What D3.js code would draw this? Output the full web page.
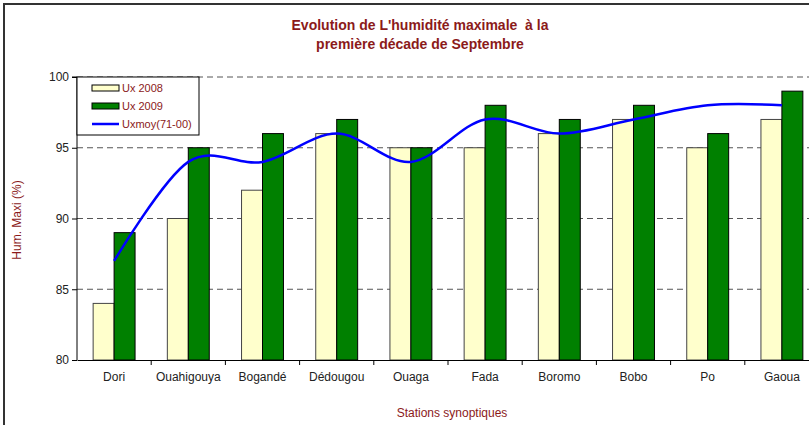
<!DOCTYPE html>
<html>
<head>
<meta charset="utf-8">
<script src="https://cdn.jsdelivr.net/npm/d3@7"></script>
<style>
  body { margin: 0; background: #fff; }
  svg { display: block; font-family: "Liberation Sans", Arial, sans-serif; }
</style>
</head>
<body>
<div id="chart"></div>
<script>
// donnees
const stations = ["Dori", "Ouahigouya", "Bogandé", "Dédougou", "Ouaga", "Fada", "Boromo", "Bobo", "Po", "Gaoua"];
const ux2008 = [84, 90, 92, 96, 95, 95, 96, 97, 95, 97];
const ux2009 = [89, 95, 96, 97, 95, 98, 97, 98, 96, 99];
const uxmoy = [87, 94, 94, 96, 94, 97, 96, 97, 98, 98];
const yTicks = [80, 85, 90, 95, 100];

const W = 809, H = 425;
const margin = { top: 77, left: 77 };
const width = 742, height = 283;
const red = "#8b1a1a";

const svg = d3.select("#chart").append("svg")
  .attr("width", W)
  .attr("height", H);

// cadre du graphique
svg.append("rect")
  .attr("x", 4).attr("y", 4)
  .attr("width", 830).attr("height", 440)
  .attr("fill", "none")
  .attr("stroke", "#333")
  .attr("stroke-width", 2);

svg.append("text")
  .attr("x", 420).attr("y", 30)
  .attr("text-anchor", "middle")
  .attr("fill", red)
  .attr("font-weight", "bold")
  .attr("font-size", 14)
  .style("white-space", "pre")
  .text("Evolution de L'humidité maximale  à la");

svg.append("text")
  .attr("x", 420).attr("y", 49)
  .attr("text-anchor", "middle")
  .attr("fill", red)
  .attr("font-weight", "bold")
  .attr("font-size", 14)
  .text("première décade de Septembre");

const g = svg.append("g")
  .attr("transform", `translate(${margin.left},${margin.top})`);

const x = d3.scaleBand()
  .domain(stations)
  .range([0, width])
  .padding(0);

const x1 = d3.scaleBand()
  .domain(["2008", "2009"])
  .range([0, x.bandwidth()])
  .paddingOuter(0.77)
  .paddingInner(0);

const y = d3.scaleLinear()
  .domain([80, 100])
  .range([height, 0]);

// grille pointillee
g.selectAll(".grid")
  .data(yTicks.filter(d => d > 80))
  .enter()
  .append("line")
  .attr("class", "grid")
  .attr("x1", 0).attr("x2", width)
  .attr("y1", d => y(d)).attr("y2", d => y(d))
  .attr("stroke", "#555")
  .attr("stroke-dasharray", "6,4");

g.selectAll(".b2008")
  .data(stations)
  .enter()
  .append("rect")
  .attr("class", "b2008")
  .attr("x", d => x(d) + x1("2008"))
  .attr("y", (d, i) => y(ux2008[i]))
  .attr("width", x1.bandwidth())
  .attr("height", (d, i) => height - y(ux2008[i]))
  .attr("fill", "#ffffcc")
  .attr("stroke", "#444");

g.selectAll(".b2009")
  .data(stations)
  .enter()
  .append("rect")
  .attr("class", "b2009")
  .attr("x", d => x(d) + x1("2009"))
  .attr("y", (d, i) => y(ux2009[i]))
  .attr("width", x1.bandwidth())
  .attr("height", (d, i) => height - y(ux2009[i]))
  .attr("fill", "#008000")
  .attr("stroke", "#000");

const line = d3.line()
  .x((d, i) => x(stations[i]) + x.bandwidth() / 2)
  .y(d => y(d))
  .curve(d3.curveCatmullRom.alpha(0));

g.append("path")
  .datum(uxmoy)
  .attr("d", line)
  .attr("fill", "none")
  .attr("stroke", "#0000ff")
  .attr("stroke-width", 2.5);

// axes
const yAxis = g.append("g")
  .call(d3.axisLeft(y).tickValues(yTicks).tickSize(5).tickPadding(3));
const xAxis = g.append("g")
  .attr("transform", `translate(0,${height})`)
  .call(d3.axisBottom(x).tickSize(0).tickPadding(12));

[yAxis, xAxis].forEach(a => {
  a.select(".domain").attr("stroke", "#000");
  a.selectAll("text")
    .attr("font-family", "Liberation Sans, Arial, sans-serif")
    .attr("font-size", 12)
    .attr("fill", "#222");
});
yAxis.select(".domain").attr("d", `M-5,0H0V${height}`);

// traits de separation des categories
g.selectAll(".xtick")
  .data(stations.slice(1).concat(["end"]))
  .enter()
  .append("line")
  .attr("x1", (d, i) => (i + 1) * x.step())
  .attr("x2", (d, i) => (i + 1) * x.step())
  .attr("y1", height).attr("y2", height + 5)
  .attr("stroke", "#000");

// legende
const leg = g.append("g");
leg.append("rect")
  .attr("x", 0).attr("y", 0)
  .attr("width", 122).attr("height", 58)
  .attr("fill", "#fff")
  .attr("stroke", "#000");

const legItems = [
  { name: "Ux 2008", type: "rect", color: "#ffffcc" },
  { name: "Ux 2009", type: "rect", color: "#008000" },
  { name: "Uxmoy(71-00)", type: "line", color: "#0000ff" }
];
legItems.forEach((it, i) => {
  const cy = 11 + i * 18;
  if (it.type === "rect") {
    leg.append("rect")
      .attr("x", 15).attr("y", cy - 3)
      .attr("width", 27).attr("height", 6)
      .attr("fill", it.color)
      .attr("stroke", "#000");
  } else {
    leg.append("line")
      .attr("x1", 15).attr("x2", 42)
      .attr("y1", cy).attr("y2", cy)
      .attr("stroke", it.color)
      .attr("stroke-width", 2.5);
  }
  leg.append("text")
    .attr("x", 45).attr("y", cy + 4)
    .attr("font-size", 11)
    .attr("fill", red)
    .text(it.name);
});

// titres des axes
svg.append("text")
  .attr("transform", "translate(21,220) rotate(-90)")
  .attr("text-anchor", "middle")
  .attr("font-size", 12)
  .attr("fill", red)
  .text("Hum. Maxi (%)");

svg.append("text")
  .attr("x", 452).attr("y", 417)
  .attr("text-anchor", "middle")
  .attr("font-size", 12)
  .attr("fill", red)
  .text("Stations synoptiques");
</script>
</body>
</html>
